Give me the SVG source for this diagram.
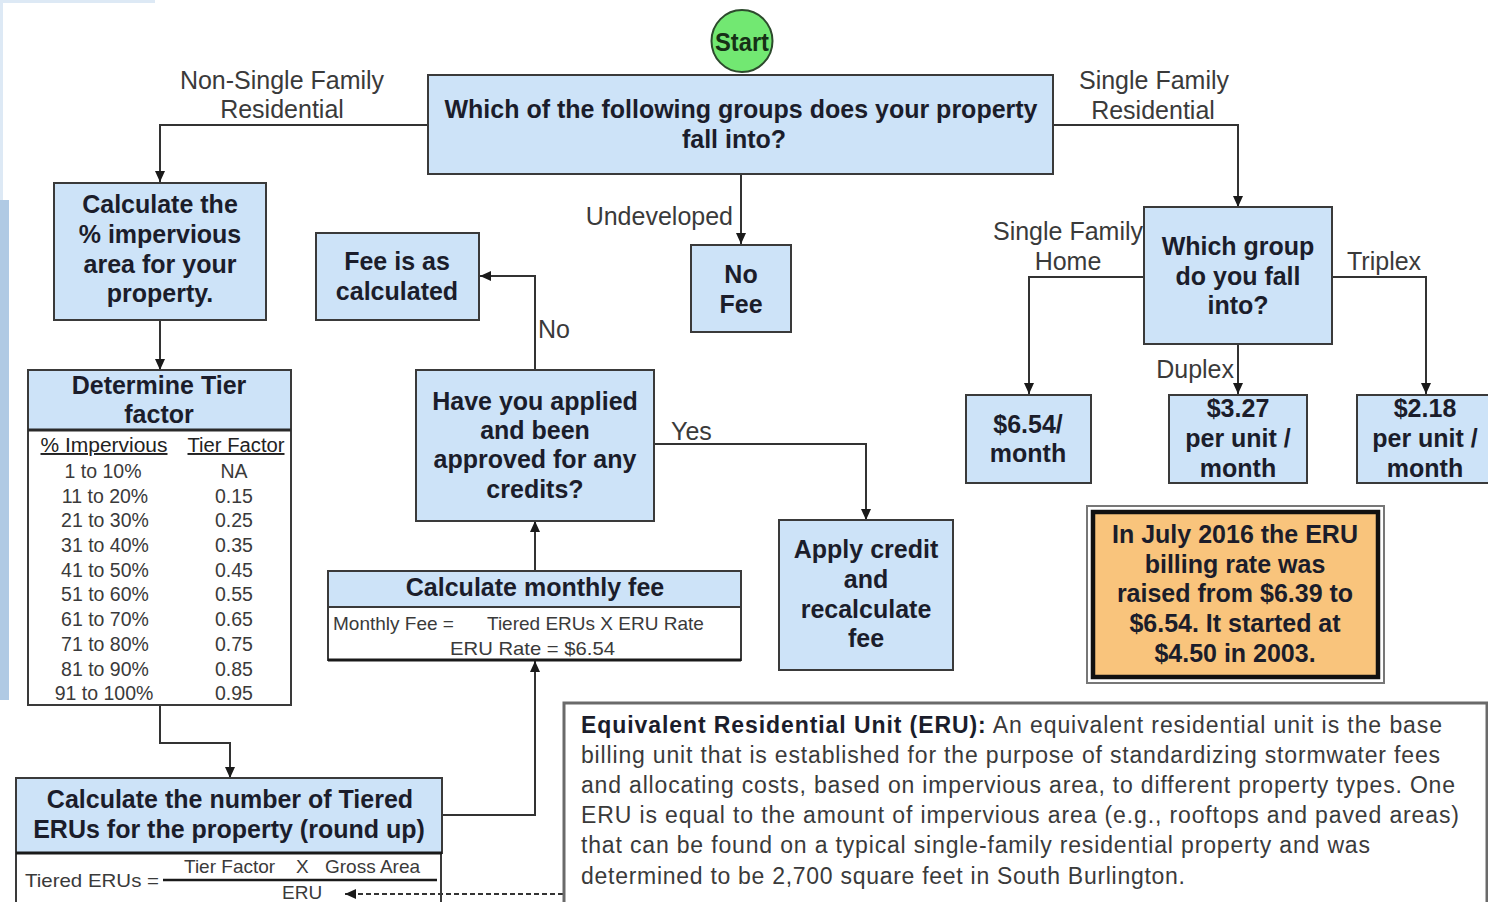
<svg xmlns="http://www.w3.org/2000/svg" width="1488" height="902" viewBox="0 0 1488 902">
<defs>
<style>
.box{fill:#cde3f8;stroke:#3a3a3a;stroke-width:2}
.wbox{fill:#ffffff;stroke:#3a3a3a;stroke-width:2}
.bt{font-family:"Liberation Sans",Arial,sans-serif;font-weight:bold;font-size:25px;fill:#1b1d2b;text-anchor:middle}
.lbl{font-family:"Liberation Sans",Arial,sans-serif;font-size:25px;fill:#3a3a3a}
.tt{font-family:"Liberation Sans",Arial,sans-serif;font-size:19.5px;fill:#3a3a3a;text-anchor:middle}
.ft{font-family:"Liberation Sans",Arial,sans-serif;font-size:19px;fill:#3a3a3a}
.et{font-family:"Liberation Sans",Arial,sans-serif;font-size:23px;fill:#3a3a3a}
.conn{fill:none;stroke:#333333;stroke-width:2}
</style>
<marker id="ah" viewBox="0 0 11 10" refX="11" refY="5" markerWidth="11" markerHeight="10" markerUnits="userSpaceOnUse" orient="auto">
<path d="M0,0 L11,5 L0,10 z" fill="#1a1a1a"/>
</marker>
</defs>
<rect x="0" y="0" width="1488" height="902" fill="#ffffff"/>
<rect x="0" y="0" width="155" height="3" fill="#dde9f5"/>
<rect x="0" y="0" width="3" height="200" fill="#dde9f5"/>
<rect x="0" y="200" width="9" height="500" fill="#b0cae4"/>

<g id="connectors">
<path class="conn" d="M428,125 H160 V182" marker-end="url(#ah)"/>
<path class="conn" d="M1053,125 H1238 V207" marker-end="url(#ah)"/>
<path class="conn" d="M741,174 V244" marker-end="url(#ah)"/>
<path class="conn" d="M160,320 V370" marker-end="url(#ah)"/>
<path class="conn" d="M160,705 V743 H230 V778" marker-end="url(#ah)"/>
<path class="conn" d="M442,815 H535 V661" marker-end="url(#ah)"/>
<path class="conn" d="M535,570 V521" marker-end="url(#ah)"/>
<path class="conn" d="M535,370 V276 H480" marker-end="url(#ah)"/>
<path class="conn" d="M654,444 H866 V520" marker-end="url(#ah)"/>
<path class="conn" d="M1143,277 H1029 V394" marker-end="url(#ah)"/>
<path class="conn" d="M1238,344 V394" marker-end="url(#ah)"/>
<path class="conn" d="M1331,277 H1426 V394" marker-end="url(#ah)"/>
<path class="conn" d="M563,894 H345" stroke-dasharray="5,3" stroke="#555555" marker-end="url(#ah)"/>
<text class="lbl" x="282" y="89" text-anchor="middle">Non-Single Family</text>
<text class="lbl" x="282" y="118" text-anchor="middle">Residential</text>
<text class="lbl" x="1154" y="89" text-anchor="middle">Single Family</text>
<text class="lbl" x="1153" y="119" text-anchor="middle">Residential</text>
<text class="lbl" x="733" y="225" text-anchor="end">Undeveloped</text>
<text class="lbl" x="538" y="338">No</text>
<text class="lbl" x="671" y="440">Yes</text>
<text class="lbl" x="1068" y="240" text-anchor="middle">Single Family</text>
<text class="lbl" x="1068" y="270" text-anchor="middle">Home</text>
<text class="lbl" x="1347" y="270">Triplex</text>
<text class="lbl" x="1234" y="378" text-anchor="end">Duplex</text>
</g>

<g id="start">
<ellipse cx="742" cy="41" rx="30.5" ry="31" fill="#72e872" stroke="#2d4a2d" stroke-width="2"/>
<text class="bt" x="742" y="51" font-size="23" textLength="54" lengthAdjust="spacingAndGlyphs" style="fill:#163016">Start</text>
</g>

<g id="main-question">
<rect class="box" x="428" y="75" width="625" height="99"/>
<text class="bt" x="741" y="118">Which of the following groups does your property</text>
<text class="bt" x="734" y="148">fall into?</text>
</g>

<g id="calc-impervious">
<rect class="box" x="54" y="183" width="212" height="137"/>
<text class="bt" x="160" y="213">Calculate the</text>
<text class="bt" x="160" y="243">% impervious</text>
<text class="bt" x="160" y="273">area for your</text>
<text class="bt" x="160" y="302">property.</text>
</g>

<g id="fee-as-calculated">
<rect class="box" x="316" y="233" width="163" height="87"/>
<text class="bt" x="397" y="270">Fee is as</text>
<text class="bt" x="397" y="300">calculated</text>
</g>

<g id="no-fee">
<rect class="box" x="691" y="245" width="100" height="87"/>
<text class="bt" x="741" y="283">No</text>
<text class="bt" x="741" y="313">Fee</text>
</g>

<g id="tier-factor">
<rect class="box" x="28" y="370" width="263" height="60"/>
<rect class="wbox" x="28" y="430" width="263" height="275"/>
<line x1="28" y1="430" x2="291" y2="430" stroke="#2a2a2a" stroke-width="3"/>
<text class="bt" x="159" y="394">Determine Tier</text>
<text class="bt" x="159" y="423">factor</text>
<text class="tt" x="104" y="452" text-decoration="underline" textLength="127" lengthAdjust="spacingAndGlyphs" style="fill:#222">% Impervious</text>
<text class="tt" x="236" y="452" text-decoration="underline" textLength="97" lengthAdjust="spacingAndGlyphs" style="fill:#222">Tier Factor</text>
<text class="tt" x="103" y="478">1 to 10%</text>
<text class="tt" x="105" y="503">11 to 20%</text>
<text class="tt" x="105" y="527">21 to 30%</text>
<text class="tt" x="105" y="552">31 to 40%</text>
<text class="tt" x="105" y="577">41 to 50%</text>
<text class="tt" x="105" y="601">51 to 60%</text>
<text class="tt" x="105" y="626">61 to 70%</text>
<text class="tt" x="105" y="651">71 to 80%</text>
<text class="tt" x="105" y="676">81 to 90%</text>
<text class="tt" x="104" y="700">91 to 100%</text>
<text class="tt" x="234" y="478">NA</text>
<text class="tt" x="234" y="503">0.15</text>
<text class="tt" x="234" y="527">0.25</text>
<text class="tt" x="234" y="552">0.35</text>
<text class="tt" x="234" y="577">0.45</text>
<text class="tt" x="234" y="601">0.55</text>
<text class="tt" x="234" y="626">0.65</text>
<text class="tt" x="234" y="651">0.75</text>
<text class="tt" x="234" y="676">0.85</text>
<text class="tt" x="234" y="700">0.95</text>
</g>

<g id="have-applied">
<rect class="box" x="416" y="370" width="238" height="151"/>
<text class="bt" x="535" y="410">Have you applied</text>
<text class="bt" x="535" y="439">and been</text>
<text class="bt" x="535" y="468">approved for any</text>
<text class="bt" x="535" y="498">credits?</text>
</g>

<g id="apply-credit">
<rect class="box" x="779" y="520" width="174" height="150"/>
<text class="bt" x="866" y="558">Apply credit</text>
<text class="bt" x="866" y="588">and</text>
<text class="bt" x="866" y="618">recalculate</text>
<text class="bt" x="866" y="647">fee</text>
</g>

<g id="monthly-fee">
<rect class="box" x="328" y="571" width="413" height="36"/>
<rect class="wbox" x="328" y="607" width="413" height="53"/>
<line x1="328" y1="660" x2="741" y2="660" stroke="#1a1a1a" stroke-width="3"/>
<text class="bt" x="535" y="596">Calculate monthly fee</text>
<text class="ft" x="333" y="630"><tspan>Monthly Fee =</tspan><tspan x="487">Tiered ERUs X ERU Rate</tspan></text>
<text class="ft" x="450" y="655" textLength="165" lengthAdjust="spacingAndGlyphs">ERU Rate = $6.54</text>
</g>

<g id="tiered-erus">
<rect class="box" x="16" y="778" width="426" height="75"/>
<path d="M16,853 V905 M441,853 V905" stroke="#3a3a3a" stroke-width="2" fill="none"/>
<line x1="16" y1="853" x2="442" y2="853" stroke="#1a1a1a" stroke-width="3"/>
<text class="bt" x="230" y="808">Calculate the number of Tiered</text>
<text class="bt" x="229" y="838">ERUs for the property (round up)</text>
<text class="ft" x="25" y="887" textLength="134" lengthAdjust="spacingAndGlyphs">Tiered ERUs =</text>
<line x1="163" y1="880" x2="437" y2="880" stroke="#1a1a1a" stroke-width="2.5"/>
<text class="ft" x="184" y="873"><tspan>Tier Factor</tspan><tspan x="296">X</tspan><tspan x="325">Gross Area</tspan></text>
<text class="ft" x="282" y="899">ERU</text>
</g>

<g id="which-group">
<rect class="box" x="1144" y="207" width="188" height="137"/>
<text class="bt" x="1238" y="255">Which group</text>
<text class="bt" x="1238" y="285">do you fall</text>
<text class="bt" x="1238" y="314">into?</text>
</g>

<g id="sfh-fee">
<rect class="box" x="966" y="395" width="125" height="88"/>
<text class="bt" x="1028" y="433">$6.54/</text>
<text class="bt" x="1028" y="462">month</text>
</g>

<g id="duplex-fee">
<rect class="box" x="1169" y="395" width="138" height="88"/>
<text class="bt" x="1238" y="417">$3.27</text>
<text class="bt" x="1238" y="447">per unit /</text>
<text class="bt" x="1238" y="477">month</text>
</g>

<g id="triplex-fee">
<rect class="box" x="1357" y="395" width="140" height="88"/>
<text class="bt" x="1425" y="417">$2.18</text>
<text class="bt" x="1425" y="447">per unit /</text>
<text class="bt" x="1425" y="477">month</text>
</g>

<g id="rate-note">
<rect x="1087" y="506" width="297" height="177" fill="#ffffff" stroke="#777777" stroke-width="2"/>
<rect x="1093" y="512" width="285" height="165" fill="#f9c47c" stroke="#111111" stroke-width="4.5"/>
<text class="bt" x="1235" y="543">In July 2016 the ERU</text>
<text class="bt" x="1235" y="573">billing rate was</text>
<text class="bt" x="1235" y="602">raised from $6.39 to</text>
<text class="bt" x="1235" y="632">$6.54. It started at</text>
<text class="bt" x="1235" y="662">$4.50 in 2003.</text>
</g>

<g id="eru-definition">
<rect x="564" y="703" width="923" height="205" fill="#ffffff" stroke="#6a6a6a" stroke-width="3"/>
<text class="et" x="581" y="733" textLength="861"><tspan font-weight="bold" fill="#1b1d2b">Equivalent Residential Unit (ERU):</tspan> An equivalent residential unit is the base</text>
<text class="et" x="581" y="763" textLength="859">billing unit that is established for the purpose of standardizing stormwater fees</text>
<text class="et" x="581" y="793" textLength="874">and allocating costs, based on impervious area, to different property types. One</text>
<text class="et" x="581" y="823" textLength="878">ERU is equal to the amount of impervious area (e.g., rooftops and paved areas)</text>
<text class="et" x="581" y="853" textLength="789">that can be found on a typical single-family residential property and was</text>
<text class="et" x="581" y="884" textLength="604">determined to be 2,700 square feet in South Burlington.</text>
</g>
</svg>
